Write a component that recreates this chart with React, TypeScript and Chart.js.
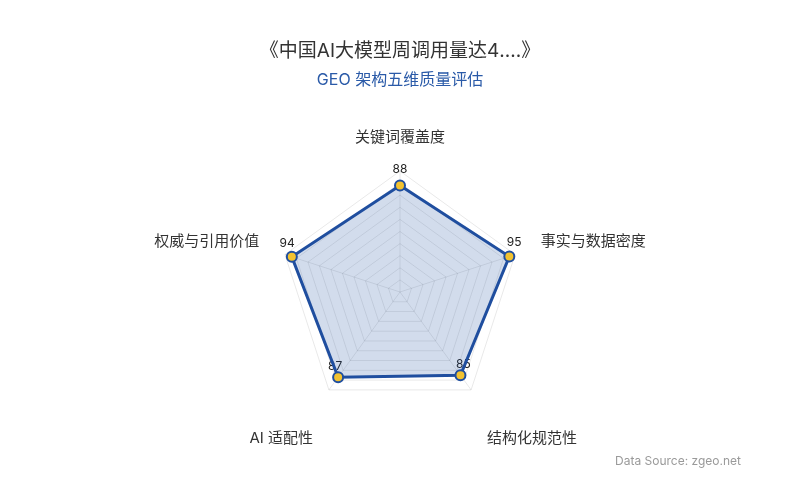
import React, { useEffect, useRef } from "react";
import { Chart, registerables } from "chart.js";

Chart.register(...registerables);

const categories = ["关键词覆盖度", "事实与数据密度", "结构化规范性", "AI 适配性", "权威与引用价值"];
const scores = [88, 95, 85, 87, 94];
const scaleMin = 0;
const scaleMax = 100;
const scaleStep = 10;
const titleText = "《中国AI大模型周调用量达4....》";
const subtitleText = "GEO 架构五维质量评估";
const sourceText = "Data Source: zgeo.net";

const FONT = "Inter, 'Noto Sans CJK SC', 'Noto Sans', sans-serif";
const BLUE = "#1f4e9f";

const overlayPlugin = {
  id: "overlayText",
  beforeDatasetsDraw(chart: any) {
    const ctx = chart.ctx;
    const scale = chart.scales.r;
    const meta = chart.getDatasetMeta(0);
    ctx.save();
    ctx.font = `12px ${FONT}`;
    ctx.fillStyle = "#222";
    ctx.textAlign = "center";
    ctx.textBaseline = "middle";
    meta.data.forEach((pt: any, i: number) => {
      const dx = pt.x - scale.xCenter;
      const dy = pt.y - scale.yCenter;
      const len = Math.hypot(dx, dy) || 1;
      const ux = dx / len;
      const uy = dy / len;
      ctx.fillText(String(scores[i]), pt.x + 5 * ux, pt.y - 13 + 3 * uy);
    });
    ctx.restore();
  },
  afterDraw(chart: any) {
    const ctx = chart.ctx;
    const scale = chart.scales.r;
    const w = chart.width;
    ctx.save();
    // axis names
    ctx.font = `15px ${FONT}`;
    ctx.fillStyle = "#333";
    ctx.textBaseline = "middle";
    categories.forEach((name, i) => {
      const p = scale.getPointPosition(i, scale.drawingArea + 27);
      const ux = Math.cos(p.angle);
      const uy = Math.sin(p.angle);
      ctx.textAlign = Math.abs(ux) < 0.05 ? "center" : ux > 0 ? "left" : "right";
      let y = p.y;
      if (uy < -0.95) y -= 7;
      else if (uy < 0) y -= 5;
      if (uy > 0.5) y += 27;
      ctx.fillText(name, p.x, y);
    });
    // title
    ctx.textAlign = "center";
    ctx.font = `19px ${FONT}`;
    ctx.fillStyle = "#333";
    ctx.fillText(titleText, w / 2, 51);
    ctx.font = `16px ${FONT}`;
    ctx.fillStyle = "#2a5aa8";
    ctx.fillText(subtitleText, w / 2, 80);
    // source
    ctx.textAlign = "right";
    ctx.font = `12px ${FONT}`;
    ctx.fillStyle = "#9a9a9a";
    ctx.fillText(sourceText, 741, 461);
    ctx.restore();
  },
};

export default function App() {
  const ref = useRef<HTMLCanvasElement>(null);
  useEffect(() => {
    const chart = new Chart(ref.current as HTMLCanvasElement, {
      type: "radar",
      data: {
        labels: categories,
        datasets: [
          {
            data: scores,
            borderColor: BLUE,
            borderWidth: 3,
            backgroundColor: "rgba(31,78,159,0.2)",
            fill: true,
            pointRadius: 5,
            pointBorderWidth: 2,
            pointBackgroundColor: "#f2c230",
            pointBorderColor: BLUE,
          },
        ],
      },
      options: {
        responsive: false,
        animation: false,
        layout: { padding: { top: 171, bottom: 87, left: 0, right: 0 } },
        plugins: {
          legend: { display: false },
          tooltip: { enabled: false },
          title: { display: false },
        },
        scales: {
          r: {
            min: scaleMin,
            max: scaleMax,
            ticks: { display: false, stepSize: scaleStep },
            grid: { color: "rgba(0,0,0,0.09)", lineWidth: 1 },
            angleLines: { color: "rgba(0,0,0,0.09)", lineWidth: 1 },
            pointLabels: { display: false },
          },
        },
      },
      plugins: [overlayPlugin],
    });
    return () => chart.destroy();
  }, []);
  return (
    <div style={{ position: "fixed", left: 0, top: 0, width: 800, height: 500, background: "#fff" }}>
      <canvas ref={ref} width={800} height={500} style={{ display: "block", width: 800, height: 500 }} />
    </div>
  );
}
